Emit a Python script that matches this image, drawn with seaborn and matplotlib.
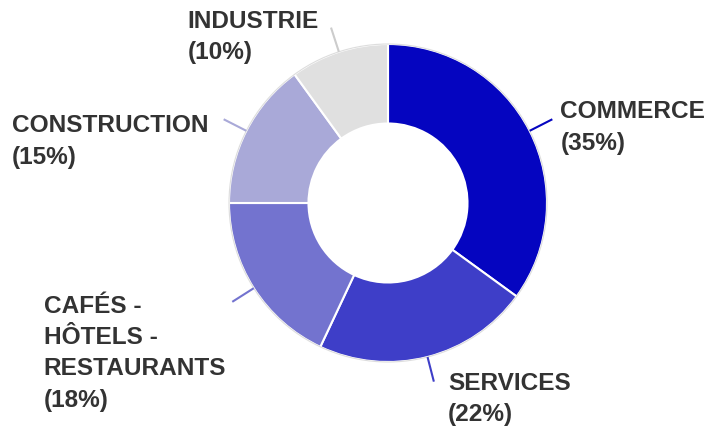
import numpy as np
import matplotlib
matplotlib.use("Agg")
import matplotlib.pyplot as plt
import seaborn as sns

# data
categories = ["COMMERCE", "SERVICES", "CAFÉS -\nHÔTELS -\nRESTAURANTS", "CONSTRUCTION", "INDUSTRIE"]
shares = [35, 22, 18, 15, 10]
colors = ["#0505c0", "#3e3ec8", "#7373cf", "#a9a9d8", "#e0e0e0"]

# label layout: offset from the leader end (pixels), alignment
label_offsets = [(8, 19), (14, 10), (-6, 7), (-15, 5), (-12, 18)]
label_ha = ["left", "left", "right", "right", "right"]

W, H, DPI = 711, 426, 100
CX, CY, R = 388, 203, 159  # donut centre / radius in pixels


def main():
    sns.set_theme(style="white")
    plt.rcParams["font.family"] = ["Liberation Sans", "DejaVu Sans"]

    fig = plt.figure(figsize=(W / DPI, H / DPI), dpi=DPI)
    ax = fig.add_axes([0, 0, 1, 1])

    wedges, _ = ax.pie(
        shares,
        colors=colors,
        startangle=90,
        counterclock=False,
        radius=1.0,
        wedgeprops=dict(width=0.5, edgecolor="white", linewidth=1.5),
    )
    # thin grey outline around the ring
    ax.add_patch(plt.Circle((0, 0), 1.0, fill=False, ec="#dddddd", lw=0.8))

    ax.set_xlim(-CX / R, (W - CX) / R)
    ax.set_ylim(-(H - CY) / R, CY / R)
    ax.set_aspect("equal")
    ax.axis("off")

    for w, name, val, col, off, ha in zip(wedges, categories, shares, colors, label_offsets, label_ha):
        ang = np.deg2rad((w.theta1 + w.theta2) / 2)
        x0, y0 = np.cos(ang) * 1.0, np.sin(ang) * 1.0
        x1, y1 = np.cos(ang) * 1.16, np.sin(ang) * 1.16
        lc = "#cccccc" if col == "#e0e0e0" else col
        ax.plot([x0, x1], [y0, y1], color=lc, lw=1.5, solid_capstyle="butt")
        ax.annotate(
            f"{name}\n({val}%)",
            xy=(x1, y1),
            xytext=off,
            textcoords="offset pixels",
            ha=ha,
            va="top",
            multialignment="left",
            fontsize=17.6,
            fontweight="bold",
            color="#333333",
            linespacing=1.46,
        )

    fig.savefig("out.png", dpi=DPI)
    plt.close(fig)


if __name__ == "__main__":
    main()
